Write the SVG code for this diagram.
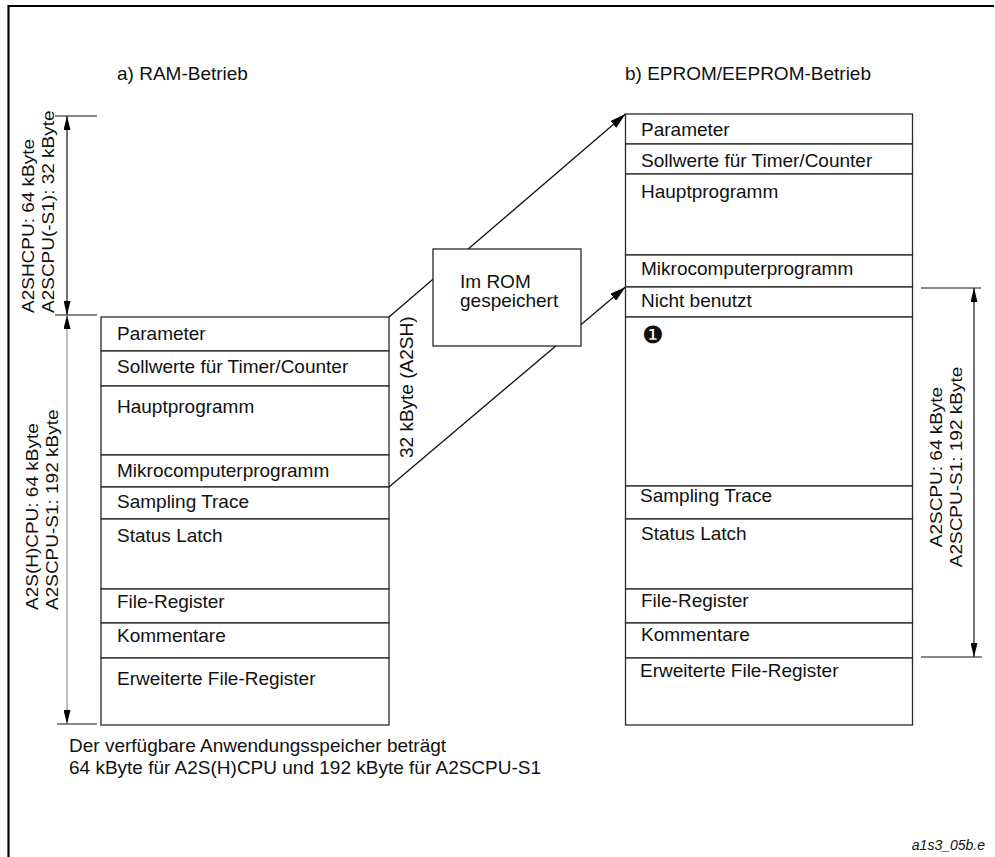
<svg xmlns="http://www.w3.org/2000/svg" width="995" height="857" viewBox="0 0 995 857">
<style>
  text { font-family: "Liberation Sans", Arial, sans-serif; font-size: 19px; fill: #111; }
  .row { fill: #fff; stroke: #2a2a2a; stroke-width: 1.3; }
  .rom { fill: #fff; stroke: #2a2a2a; stroke-width: 1.3; }
  .ext { stroke: #111; stroke-width: 1.2; fill: none; }
  .dim { stroke: #111; stroke-width: 1.2; fill: none; marker-start: url(#dimArrow); marker-end: url(#dimArrow); }
  .dimgray { stroke: #8a8a8a; stroke-width: 1.1; fill: none; marker-start: url(#dimArrow); marker-end: url(#dimArrow); }
  .conn { stroke: #111; stroke-width: 1.3; fill: none; marker-end: url(#connArrow); }
  .frame { stroke: #000; stroke-width: 2.2; fill: none; }
  .foot { font-style: italic; font-size: 14px; }
  .mark { font-family: "DejaVu Sans", sans-serif; font-size: 24px; }
</style>
<defs>
  <marker id="dimArrow" markerUnits="userSpaceOnUse" viewBox="0 0 14 7" refX="14" refY="3.5" markerWidth="14" markerHeight="7" orient="auto-start-reverse">
    <path d="M0,0 L14,3.5 L0,7 z" fill="#000"/>
  </marker>
  <marker id="connArrow" markerUnits="userSpaceOnUse" viewBox="0 0 16 9" refX="16" refY="4.5" markerWidth="16" markerHeight="9" orient="auto">
    <path d="M0,0 L16,4.5 L0,9 z" fill="#000"/>
  </marker>
</defs>

<rect width="995" height="857" fill="#fff"/>
<path class="frame" d="M8.5,857 V6 H994"/>

<g id="titles">
  <text x="117" y="80">a) RAM-Betrieb</text>
  <text x="625" y="80">b) EPROM/EEPROM-Betrieb</text>
</g>

<g id="connectors">
  <line class="conn" x1="389" y1="317" x2="625.5" y2="114"/>
  <line class="conn" x1="389" y1="487" x2="625.5" y2="287"/>
</g>

<g id="ram-map">
  <rect class="row" x="101" y="317" width="288" height="34"/>
  <text x="117" y="340">Parameter</text>
  <rect class="row" x="101" y="351" width="288" height="35"/>
  <text x="117" y="373">Sollwerte für Timer/Counter</text>
  <rect class="row" x="101" y="386" width="288" height="69"/>
  <text x="117" y="413">Hauptprogramm</text>
  <rect class="row" x="101" y="455" width="288" height="32"/>
  <text x="117" y="477">Mikrocomputerprogramm</text>
  <rect class="row" x="101" y="487" width="288" height="32"/>
  <text x="117" y="508">Sampling Trace</text>
  <rect class="row" x="101" y="519" width="288" height="70"/>
  <text x="117" y="542">Status Latch</text>
  <rect class="row" x="101" y="589" width="288" height="34"/>
  <text x="117" y="608">File-Register</text>
  <rect class="row" x="101" y="623" width="288" height="35"/>
  <text x="117" y="642">Kommentare</text>
  <rect class="row" x="101" y="658" width="288" height="67"/>
  <text x="117" y="685">Erweiterte File-Register</text>
</g>

<g id="eprom-map">
  <rect class="row" x="625.5" y="114" width="287" height="30"/>
  <text x="641" y="136">Parameter</text>
  <rect class="row" x="625.5" y="144" width="287" height="30"/>
  <text x="641" y="167">Sollwerte für Timer/Counter</text>
  <rect class="row" x="625.5" y="174" width="287" height="81"/>
  <text x="641" y="198">Hauptprogramm</text>
  <rect class="row" x="625.5" y="255" width="287" height="32"/>
  <text x="641" y="275">Mikrocomputerprogramm</text>
  <rect class="row" x="625.5" y="287" width="287" height="30"/>
  <text x="641" y="307">Nicht benutzt</text>
  <rect class="row" x="625.5" y="317" width="287" height="169"/>
  <text class="mark" x="642" y="342.5">❶</text>
  <rect class="row" x="625.5" y="486" width="287" height="33"/>
  <text x="640" y="502">Sampling Trace</text>
  <rect class="row" x="625.5" y="519" width="287" height="70"/>
  <text x="641" y="540">Status Latch</text>
  <rect class="row" x="625.5" y="589" width="287" height="34"/>
  <text x="641" y="607">File-Register</text>
  <rect class="row" x="625.5" y="623" width="287" height="35"/>
  <text x="641" y="641">Kommentare</text>
  <rect class="row" x="625.5" y="658" width="287" height="67"/>
  <text x="640" y="677">Erweiterte File-Register</text>
</g>

<g id="rom-box">
  <rect class="rom" x="433" y="249" width="148" height="97"/>
  <text x="460" y="288">Im ROM</text>
  <text x="460" y="307">gespeichert</text>
</g>

<g id="label-32k">
  <text transform="translate(413,458) rotate(-90) scale(1,0.92)">32 kByte (A2SH)</text>
</g>

<g id="dim-left-upper">
  <line class="ext" x1="55" y1="116" x2="97" y2="116"/>
  <line class="ext" x1="55" y1="315" x2="97" y2="315"/>
  <line class="dim" x1="67" y1="116" x2="67" y2="315"/>
  <text transform="translate(34,313) rotate(-90) scale(1,0.86)">A2SHCPU: 64 kByte</text>
  <text transform="translate(54,313) rotate(-90) scale(1,0.86)">A2SCPU(-S1): 32 kByte</text>
</g>

<g id="dim-left-lower">
  <line class="ext" x1="57" y1="724" x2="97" y2="724"/>
  <line class="dimgray" x1="67" y1="315" x2="67" y2="724"/>
  <text transform="translate(38,610) rotate(-90) scale(1,0.86)">A2S(H)CPU: 64 kByte</text>
  <text transform="translate(58,610) rotate(-90) scale(1,0.86)">A2SCPU-S1: 192 kByte</text>
</g>

<g id="dim-right">
  <line class="ext" x1="921" y1="288" x2="981" y2="288"/>
  <line class="ext" x1="921" y1="657" x2="982" y2="657"/>
  <line class="dim" x1="974" y1="288" x2="974" y2="657"/>
  <text text-anchor="middle" transform="translate(942,467) rotate(-90) scale(1,0.86)">A2SCPU: 64 kByte</text>
  <text text-anchor="middle" transform="translate(962,467) rotate(-90) scale(1,0.86)">A2SCPU-S1: 192 kByte</text>
</g>

<g id="note">
  <text x="69" y="752">Der verfügbare Anwendungsspeicher beträgt</text>
  <text x="69" y="774">64 kByte für A2S(H)CPU und 192 kByte für A2SCPU-S1</text>
</g>

<g id="footer">
  <text class="foot" x="985" y="850" text-anchor="end">a1s3_05b.e</text>
</g>
</svg>
